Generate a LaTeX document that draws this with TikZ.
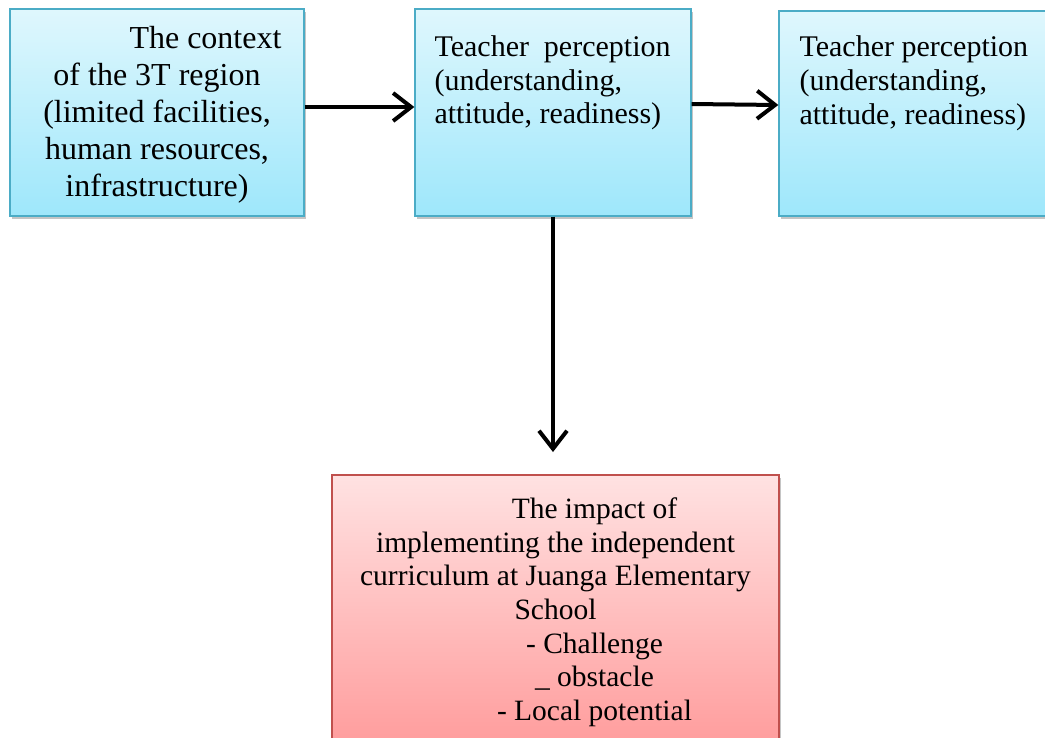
\documentclass[tikz,border=0pt]{standalone}
\usepackage{fontspec}
\setmainfont{Liberation Serif}
\usepackage{tikz}
\usetikzlibrary{arrows.meta,shadows,positioning}

\definecolor{boxtop}{RGB}{223,247,253}
\definecolor{boxbot}{RGB}{158,231,251}
\definecolor{boxline}{RGB}{75,172,198}
\definecolor{redtop}{RGB}{255,226,226}
\definecolor{redbot}{RGB}{255,150,150}
\definecolor{redline}{RGB}{192,80,77}

\newcommand{\boxfont}[2]{\fontsize{#1}{#2}\selectfont}

\tikzset{
    bluebox/.style = {draw=boxline, line width=1.3pt, top color=boxtop, bottom color=boxbot,
        drop shadow={shadow xshift=2pt, shadow yshift=-3pt, fill=black!45}},
    redbox/.style = {draw=redline, line width=1.3pt, top color=redtop, bottom color=redbot,
        drop shadow={shadow xshift=2pt, shadow yshift=-3pt, fill=black!45}},
    boxtext/.style = {inner sep=0pt},
    flow/.style = {line width=4pt, -{Straight Barb[length=18pt,width=28pt,line width=4pt]}}
}

\begin{document}
\begin{tikzpicture}[x=1pt,y=-1pt]
    \useasboundingbox (0,0) rectangle (1045,737);

    \node[bluebox, minimum width=294pt, minimum height=207pt] (ctx) at (157,112.5) {};
    \node[boxtext, align=center, font=\boxfont{32}{37}] (ctxtxt) at ([yshift=-2.5pt]ctx.center)
        {\hspace*{97pt}The context\\of the 3T region\\(limited facilities,\\human resources,\\infrastructure)};

    \node[bluebox, minimum width=276pt, minimum height=207pt] (perc) at (553,112.5) {};
    \node[boxtext, anchor=north west, align=left, font=\boxfont{30}{33.5}]
        (perctxt) at ([xshift=20pt,yshift=-27.5pt]perc.north west)
        {\makebox[236pt][s]{Teacher perception}\\(understanding,\\attitude, readiness)};

    \node[bluebox, minimum width=291pt, minimum height=205pt] (perc2) at (924.5,113.5) {};
    \node[boxtext, anchor=north west, align=left, font=\boxfont{30}{34}]
        (perc2txt) at ([xshift=21pt,yshift=-25.5pt]perc2.north west)
        {Teacher perception\\(understanding,\\attitude, readiness)};

    \node[redbox, minimum width=447pt, minimum height=295pt] (imp) at (555.5,622.5) {};
    \node[boxtext, anchor=north, align=center, font=\boxfont{29.5}{33.7}]
        (imptxt) at ([yshift=-23pt]imp.north)
        {\hspace*{78pt}The impact of\\implementing the independent\\curriculum at Juanga Elementary\\School\\
         \hspace*{78pt}- Challenge\\\hspace*{78pt}\_ obstacle\\\hspace*{78pt}- Local potential};

    \coordinate (down) at (553,452);
    \draw[flow] ([yshift=5.5pt]ctx.east) -- ([yshift=5.5pt]perc.west);
    \draw[flow] ([yshift=8.5pt]perc.east) -- ([yshift=8.5pt]perc2.west);
    \draw[flow] (perc.south) -- (down);
\end{tikzpicture}
\end{document}
